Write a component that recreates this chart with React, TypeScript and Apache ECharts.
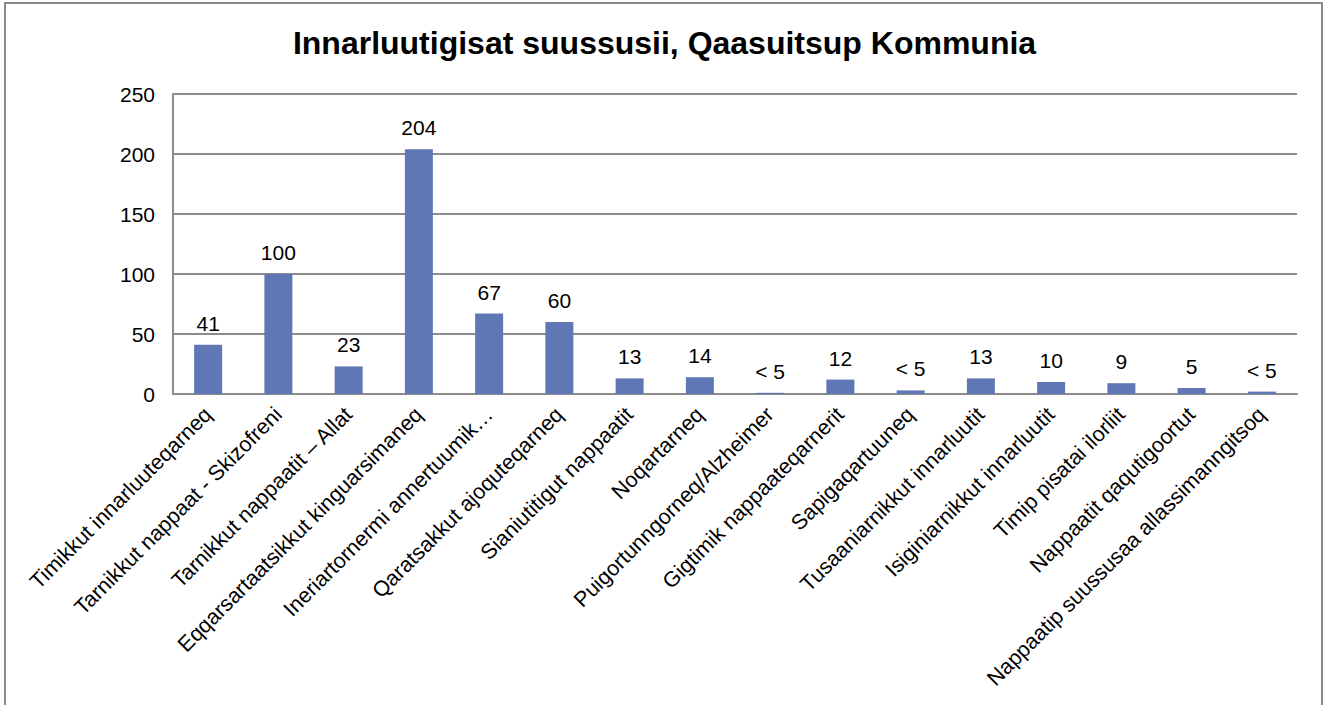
import React, { useEffect, useRef } from "react";
import * as echarts from "echarts";

const categories = [
  "Timikkut innarluuteqarneq",
  "Tarnikkut nappaat - Skizofreni",
  "Tarnikkut nappaatit – Allat",
  "Eqqarsartaatsikkut kinguarsimaneq",
  "Ineriartornermi annertuumik…",
  "Qaratsakkut ajoquteqarneq",
  "Sianiutitigut nappaatit",
  "Noqartarneq",
  "Puigortunngorneq/Alzheimer",
  "Gigtimik nappaateqarnerit",
  "Sapigaqartuuneq",
  "Tusaaniarnikkut innarluutit",
  "Isiginiarnikkut innarluutit",
  "Timip pisatai ilorliit",
  "Nappaatit qaqutigoortut",
  "Nappaatip suussusaa allassimanngitsoq",
];

const values = [41, 100, 23, 204, 67, 60, 13, 14, 1, 12, 3, 13, 10, 9, 5, 2];
const valueLabels = ["41", "100", "23", "204", "67", "60", "13", "14", "< 5", "12", "< 5", "13", "10", "9", "5", "< 5"];
const yTicks = [0, 50, 100, 150, 200, 250];

export default function App() {
  const ref = useRef<HTMLDivElement>(null);
  useEffect(() => {
    document.body.style.margin = "0";
    const chart = echarts.init(ref.current!, null, { renderer: "svg" });
    const font = "'Liberation Sans', Arial, sans-serif";
    chart.setOption({
      animation: false,
      backgroundColor: "#ffffff",
      textStyle: { fontFamily: font },
      title: {
        text: "Innarluutigisat suussusii, Qaasuitsup Kommunia",
        left: "center",
        top: 22,
        textStyle: { fontFamily: font, fontSize: 32, fontWeight: "bold", color: "#000" },
      },
      graphic: [
        {
          type: "rect",
          shape: { x: 5, y: 3, width: 1317, height: 720 },
          style: { fill: "none", stroke: "#8a8a8a", lineWidth: 2 },
          silent: true,
        },
      ],
      grid: { left: 173, right: 32, top: 94, bottom: 311 },
      xAxis: {
        type: "category",
        data: categories,
        axisLine: { show: true, lineStyle: { color: "#8c8c8c", width: 2 } },
        axisTick: { show: false },
        axisLabel: {
          rotate: 45,
          interval: 0,
          fontSize: 21.5,
          color: "#000",
          fontFamily: font,
          margin: 17,
        },
      },
      yAxis: {
        type: "value",
        min: 0,
        max: 250,
        interval: 50,
        axisLine: { show: true, lineStyle: { color: "#8c8c8c", width: 2 } },
        axisTick: { show: false },
        axisLabel: {
          fontSize: 21,
          color: "#000",
          fontFamily: font,
          margin: 18,
          formatter: (v: number) => (yTicks.includes(v) ? String(v) : ""),
        },
        splitLine: { lineStyle: { color: "#8c8c8c", width: 2 } },
      },
      series: [
        {
          type: "bar",
          data: values,
          barWidth: 28,
          itemStyle: { color: "#6077b5" },
          label: {
            show: true,
            position: "top",
            distance: 11,
            fontSize: 21,
            color: "#000",
            fontFamily: font,
            formatter: (p: any) => valueLabels[p.dataIndex],
          },
        },
      ],
    });
    return () => chart.dispose();
  }, []);
  return <div ref={ref} style={{ width: 1329, height: 705 }} />;
}
